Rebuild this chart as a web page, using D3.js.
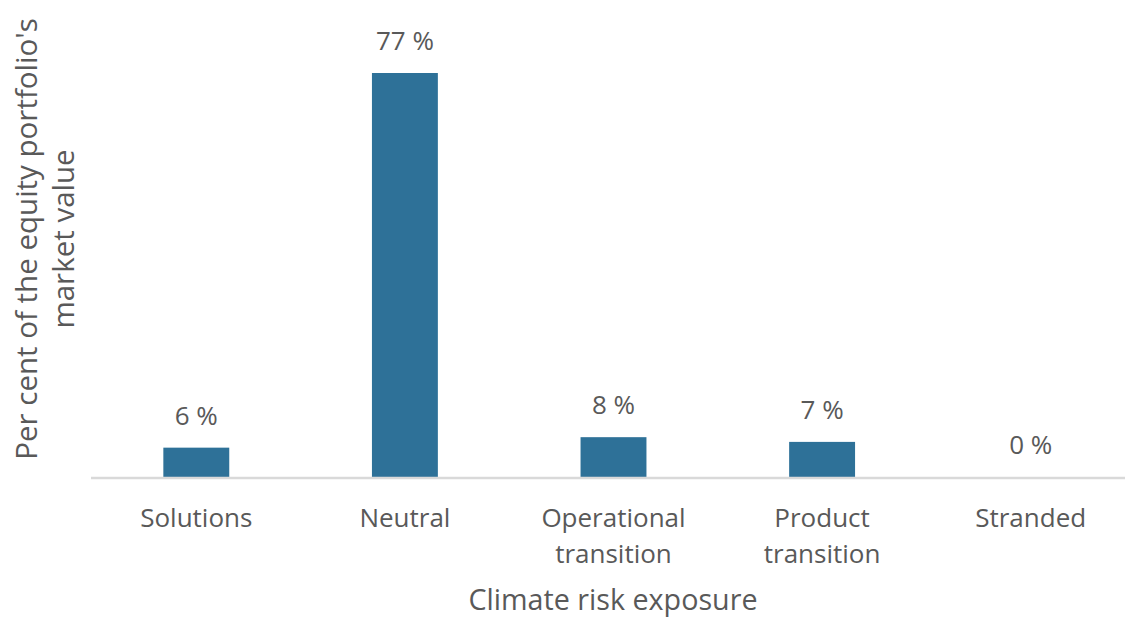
<!DOCTYPE html>
<html><head><meta charset="utf-8">
<script src="https://cdn.jsdelivr.net/npm/d3@7"></script>
<style>body{margin:0;background:#fff}svg{display:block}</style>
</head><body>
<script>
const categories = [["Solutions"],["Neutral"],["Operational","transition"],["Product","transition"],["Stranded"]];
const values = [5.6, 77.1, 7.6, 6.7, 0.0];
const valueLabels = ["6 %","77 %","8 %","7 %","0 %"];
const yTitle = ["Per cent of the equity portfolio's","market value"];
const xTitle = "Climate risk exposure";

const W=1125,H=619;
const font = "'Open Sans', sans-serif";
const textColor = "#595959";
const svg = d3.select("body").append("svg").attr("width",W).attr("height",H);
const x = d3.scaleBand().domain(d3.range(categories.length)).range([92,1135]).paddingInner(0.684).paddingOuter(0.342);
const y = d3.scaleLinear().domain([0,77.1]).range([477,73]);

svg.selectAll("rect.bar").data(values).join("rect").attr("class","bar")
  .attr("x",(d,i)=>x(i)).attr("width",x.bandwidth())
  .attr("y",d=>y(d)).attr("height",d=>y(0)-y(d)).attr("fill","#2E7198");

svg.append("line").attr("x1",91).attr("x2",W).attr("y1",478).attr("y2",478)
  .attr("stroke","#D9D9D9").attr("stroke-width",2.5);

svg.selectAll("text.vl").data(values).join("text").attr("class","vl")
  .attr("x",(d,i)=>x(i)+x.bandwidth()/2).attr("y",d=>y(d)-23)
  .attr("text-anchor","middle").attr("font-family",font).attr("font-size",26).attr("fill",textColor)
  .text((d,i)=>valueLabels[i]);

const cat = svg.selectAll("text.cat").data(categories).join("text").attr("class","cat")
  .attr("text-anchor","middle").attr("font-family",font).attr("font-size",26).attr("fill",textColor);
cat.each(function(lines,i){
  const t=d3.select(this);
  lines.forEach((l,j)=>t.append("tspan").attr("x",x(i)+x.bandwidth()/2).attr("y",527+j*36).text(l));
});

svg.append("text").attr("x",613).attr("y",610).attr("text-anchor","middle")
  .attr("font-family",font).attr("font-size",28.7).attr("fill",textColor).text(xTitle);

const yt = svg.append("text").attr("transform","translate(0,239) rotate(-90)")
  .attr("text-anchor","middle").attr("font-family",font).attr("font-size",29.5).attr("fill",textColor);
yTitle.forEach((l,j)=>yt.append("tspan").attr("x",0).attr("y",37+j*37).text(l));
</script>
</body></html>
